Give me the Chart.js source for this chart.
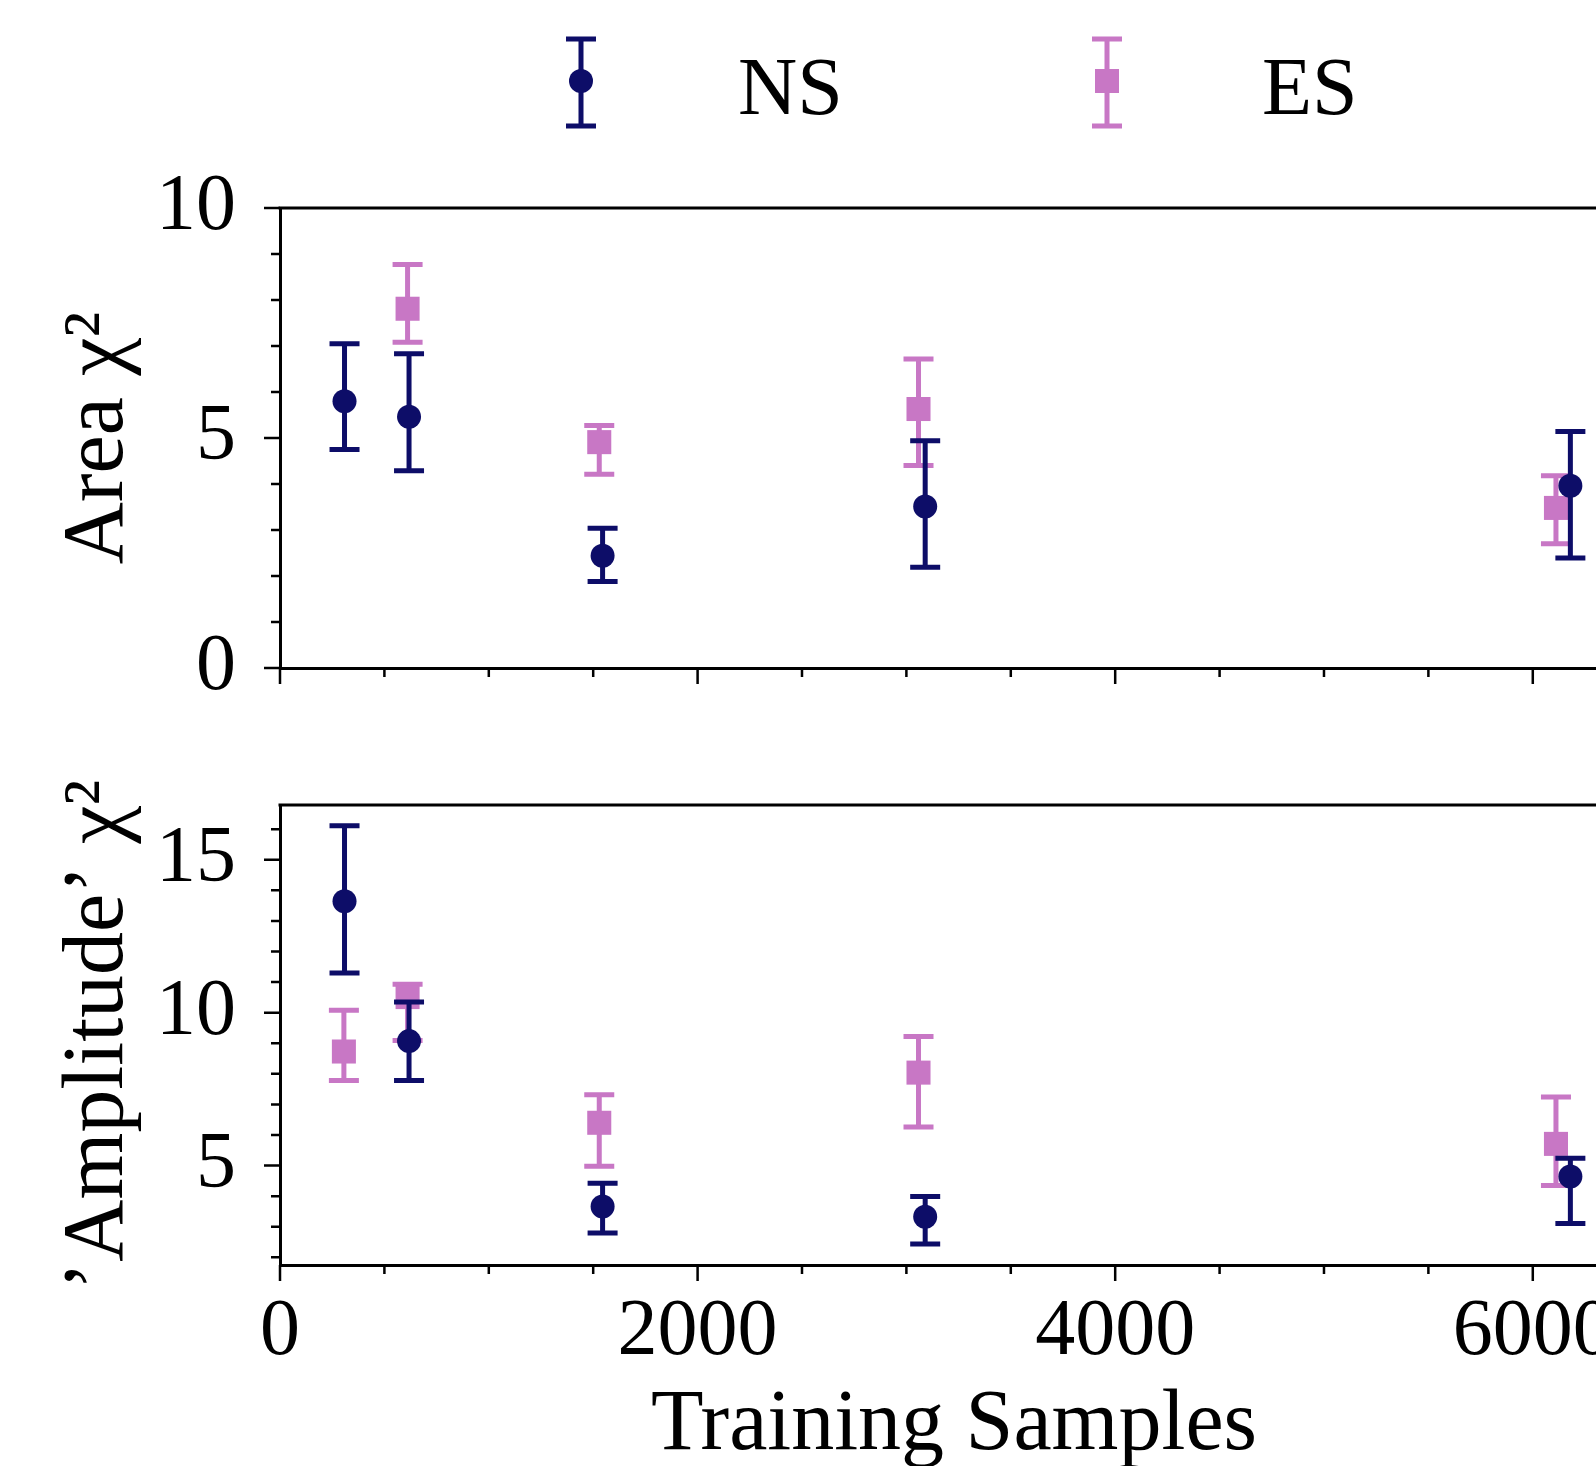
<!DOCTYPE html>
<html><head><meta charset="utf-8">
<script src="https://cdn.jsdelivr.net/npm/chart.js@4.4.1/dist/chart.umd.min.js"></script>
<style>
html,body{margin:0;padding:0;background:#fff;overflow:hidden;width:1596px;height:1466px;position:relative}
canvas{position:absolute;left:0}
#c1{top:0}
#c2{top:740px}
</style></head><body>
<canvas id="c1" width="1700" height="740"></canvas>
<canvas id="c2" width="1700" height="760"></canvas>
<script>
// ---------- data ----------
const seriesNames = ['NS', 'ES'];
const nsX = [309, 618, 1545, 3090, 6180];
const esX = [306, 611, 1529, 3058, 6111];

const areaNS     = [5.80, 5.46, 2.44, 3.51, 3.96];
const areaNSLow  = [4.75, 4.29, 1.88, 2.19, 2.39];
const areaNSHigh = [7.05, 6.83, 3.04, 4.94, 5.14];
const areaES     = [null, 7.81, 4.91, 5.63, 3.48];
const areaESLow  = [null, 7.08, 4.21, 4.40, 2.70];
const areaESHigh = [null, 8.77, 5.27, 6.72, 4.18];

const ampNS     = [13.64, 9.07, 3.66, 3.33, 4.64];
const ampNSLow  = [11.30, 7.78, 2.80, 2.44, 3.11];
const ampNSHigh = [16.11, 10.35, 4.42, 3.99, 5.24];
const ampES     = [8.73, 10.51, 6.40, 8.04, 5.71];
const ampESLow  = [7.78, 9.09, 4.98, 6.26, 4.35];
const ampESHigh = [10.08, 10.93, 7.32, 9.22, 7.24];

const xMajorTicks = [0, 2000, 4000, 6000];
const xMinorTicks = [500, 1000, 1500, 2500, 3000, 3500, 4500, 5000, 5500, 6500];
const areaMajorTicks = [0, 5, 10];
const areaMinorTicks = [1, 2, 3, 4, 6, 7, 8, 9];
const ampMajorTicks = [5, 10, 15];
const ampMinorTicks = [2, 3, 4, 6, 7, 8, 9, 11, 12, 13, 14, 16];

const xTitle = 'Training Samples';
const areaTitle = 'Area χ²';
const ampTitle = '’Amplitude’ χ²';

// ---------- style ----------
const NS_COLOR = '#0d0d68';
const ES_COLOR = '#c877c5';
const FONT = "'Liberation Serif', 'DejaVu Serif', serif";
const BAR_W = 5, CAP = 15;

const toPts = (xs, ys) => xs.map((x, i) => ({x: x, y: ys[i]}));

const errorBarPlugin = {
  id: 'errbars',
  beforeDatasetDraw(chart, args) {
    const ds = chart.data.datasets[args.index];
    if (!ds.errLow) return;
    const {ctx, chartArea} = chart;
    const xs = chart.scales.x, ys = chart.scales.y;
    ctx.save();
    ctx.beginPath();
    ctx.rect(chartArea.left, chartArea.top, chartArea.width, chartArea.height);
    ctx.clip();
    ctx.strokeStyle = ds.borderColor;
    ctx.lineWidth = BAR_W;
    ctx.lineCap = 'butt';
    ds.data.forEach((p, i) => {
      if (p.y == null || ds.errLow[i] == null) return;
      const px = xs.getPixelForValue(p.x);
      const y1 = ys.getPixelForValue(ds.errLow[i]);
      const y2 = ys.getPixelForValue(ds.errHigh[i]);
      ctx.beginPath();
      ctx.moveTo(px, y1); ctx.lineTo(px, y2);
      ctx.moveTo(px - CAP, y1); ctx.lineTo(px + CAP, y1);
      ctx.moveTo(px - CAP, y2); ctx.lineTo(px + CAP, y2);
      ctx.stroke();
    });
    ctx.restore();
  }
};

const frameTicksPlugin = {
  id: 'frameTicks',
  afterDraw(chart, args, opts) {
    const {ctx, chartArea} = chart;
    const xs = chart.scales.x, ys = chart.scales.y;
    ctx.save();
    ctx.strokeStyle = '#000';
    ctx.lineWidth = 2.5;
    ctx.beginPath();
    xMajorTicks.forEach(v => { const p = xs.getPixelForValue(v); ctx.moveTo(p, chartArea.bottom); ctx.lineTo(p, chartArea.bottom + 16); });
    xMinorTicks.forEach(v => { const p = xs.getPixelForValue(v); ctx.moveTo(p, chartArea.bottom); ctx.lineTo(p, chartArea.bottom + 9); });
    opts.yMajor.forEach(v => { const p = ys.getPixelForValue(v); ctx.moveTo(chartArea.left, p); ctx.lineTo(chartArea.left - 16, p); });
    opts.yMinor.forEach(v => { const p = ys.getPixelForValue(v); ctx.moveTo(chartArea.left, p); ctx.lineTo(chartArea.left - 9, p); });
    ctx.stroke();
    ctx.lineWidth = 3;
    ctx.beginPath();
    ctx.moveTo(chartArea.left - 1.5, chartArea.top);
    ctx.lineTo(chartArea.right, chartArea.top);
    ctx.stroke();
    ctx.restore();
  }
};

const errLegendPlugin = {
  id: 'errLegend',
  afterDraw(chart, args, opts) {
    if (!opts.items) return;
    const ctx = chart.ctx;
    ctx.save();
    opts.items.forEach(it => {
      ctx.strokeStyle = it.color;
      ctx.fillStyle = it.color;
      ctx.lineWidth = BAR_W;
      ctx.beginPath();
      ctx.moveTo(it.x, opts.top); ctx.lineTo(it.x, opts.bottom);
      ctx.moveTo(it.x - CAP, opts.top); ctx.lineTo(it.x + CAP, opts.top);
      ctx.moveTo(it.x - CAP, opts.bottom); ctx.lineTo(it.x + CAP, opts.bottom);
      ctx.stroke();
      ctx.beginPath();
      if (it.style === 'circle') {
        ctx.arc(it.x, opts.mid, 12, 0, Math.PI * 2);
      } else {
        ctx.rect(it.x - 12, opts.mid - 12, 24, 24);
      }
      ctx.fill();
      ctx.fillStyle = '#000';
      ctx.font = '82px ' + FONT;
      ctx.textBaseline = 'alphabetic';
      ctx.textAlign = 'left';
      ctx.fillText(it.text, it.textX, opts.baseline);
    });
    ctx.restore();
  }
};

function makeDatasets(nsY, nsLo, nsHi, esY, esLo, esHi) {
  return [
    {label: seriesNames[0], data: toPts(nsX, nsY), errLow: nsLo, errHigh: nsHi,
     borderColor: NS_COLOR, backgroundColor: NS_COLOR, pointStyle: 'circle', pointRadius: 12,
     pointBorderWidth: 0, showLine: false},
    {label: seriesNames[1], data: toPts(esX, esY), errLow: esLo, errHigh: esHi,
     borderColor: ES_COLOR, backgroundColor: ES_COLOR, pointStyle: 'rect', pointRadius: 17,
     pointBorderWidth: 0, showLine: false}
  ];
}

function makeOptions(o) {
  return {
    responsive: false,
    animation: false,
    events: [],
    layout: {padding: {top: o.padTop, right: 72, left: 0, bottom: 0}},
    plugins: {
      legend: {display: false},
      tooltip: {enabled: false},
      frameTicks: {yMajor: o.yMajor, yMinor: o.yMinor},
      errLegend: o.legend || {}
    },
    scales: {
      x: {
        type: 'linear', min: 0, max: 6456,
        afterBuildTicks: s => { s.ticks = xMajorTicks.map(v => ({value: v})); },
        afterFit: s => { s.height = o.xHeight; },
        ticks: {display: o.showX, color: '#000', padding: 20, maxRotation: 0, autoSkip: false,
                font: {family: FONT, size: 80}, callback: v => String(v)},
        grid: {display: false, drawTicks: false},
        border: {display: true, color: '#000', width: 3},
        title: {display: o.showX, text: xTitle, color: '#000',
                font: {family: FONT, size: 86}, padding: {top: 0, bottom: 22}}
      },
      y: {
        type: 'linear', min: o.yMin, max: o.yMax,
        afterBuildTicks: s => { s.ticks = o.yMajor.map(v => ({value: v})); },
        afterFit: s => { s.width = 280; },
        ticks: {color: '#000', padding: 4, font: {family: FONT, size: 80}, callback: v => String(v)},
        grid: {display: true, drawOnChartArea: false, drawTicks: true, tickLength: 40,
               color: 'rgba(0,0,0,0)', tickColor: 'rgba(0,0,0,0)'},
        border: {display: true, color: '#000', width: 3},
        title: {display: true, text: o.yTitle, color: '#000',
                font: {family: FONT, size: 86}, padding: {top: 48, bottom: 0}}
      }
    }
  };
}

new Chart(document.getElementById('c1'), {
  type: 'scatter',
  data: {datasets: makeDatasets(areaNS, areaNSLow, areaNSHigh, areaES, areaESLow, areaESHigh)},
  options: makeOptions({
    padTop: 208, xHeight: 72, showX: false, yMin: 0, yMax: 10,
    yMajor: areaMajorTicks, yMinor: areaMinorTicks, yTitle: areaTitle,
    legend: {
      top: 39, bottom: 126, mid: 81, baseline: 114,
      items: [
        {text: seriesNames[0], color: NS_COLOR, style: 'circle', x: 581, textX: 738},
        {text: seriesNames[1], color: ES_COLOR, style: 'rect', x: 1107, textX: 1262}
      ]
    }
  }),
  plugins: [errorBarPlugin, frameTicksPlugin, errLegendPlugin]
});

new Chart(document.getElementById('c2'), {
  type: 'scatter',
  data: {datasets: makeDatasets(ampNS, ampNSLow, ampNSHigh, ampES, ampESLow, ampESHigh)},
  options: makeOptions({
    padTop: 65, xHeight: 235, showX: true, yMin: 1.75, yMax: 16.79,
    yMajor: ampMajorTicks, yMinor: ampMinorTicks, yTitle: ampTitle
  }),
  plugins: [errorBarPlugin, frameTicksPlugin, errLegendPlugin]
});
</script>
</body></html>
